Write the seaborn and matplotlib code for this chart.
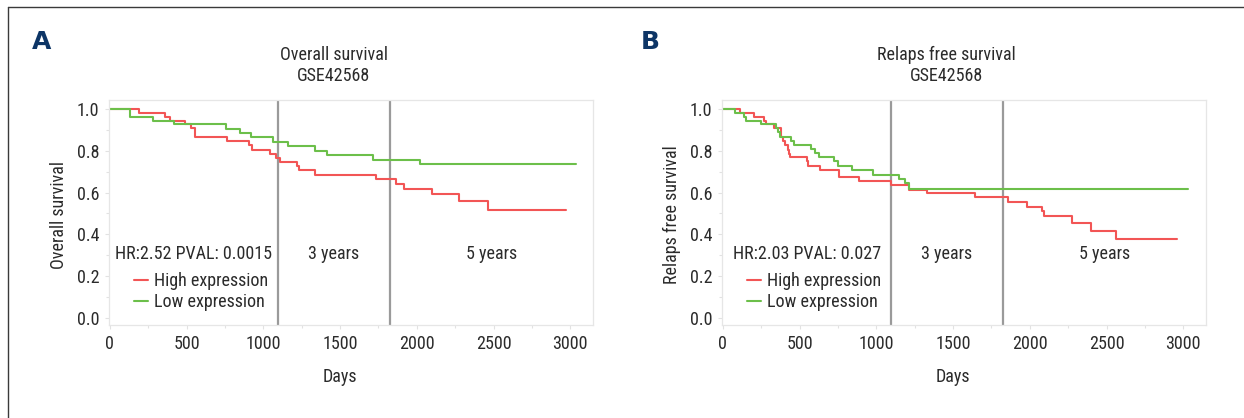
import matplotlib
matplotlib.use("Agg")
import matplotlib.pyplot as plt
from matplotlib import font_manager
from matplotlib.lines import Line2D
from matplotlib.ticker import MultipleLocator
import numpy as np
import pandas as pd
import seaborn as sns

# ---------------- data ----------------
groups = ["High expression", "Low expression"]

# Panel A: Overall survival (GSE42568)
os_high_days = [0, 189, 363, 395, 493, 526, 554, 765, 906, 928, 1047, 1080, 1112, 1221, 1236, 1336,
                1735, 1863, 1917, 2096, 2278, 2463, 2971]
os_high_surv = [1.0, 0.982, 0.963, 0.944, 0.926, 0.907, 0.865, 0.846, 0.827, 0.806, 0.786, 0.765, 0.746,
                0.725, 0.706, 0.685, 0.666, 0.642, 0.619, 0.592, 0.558, 0.518, 0.518]
os_low_days = [0, 135, 283, 419, 754, 849, 917, 1064, 1162, 1340, 1416, 1716, 2024, 3038]
os_low_surv = [1.0, 0.963, 0.942, 0.926, 0.905, 0.886, 0.865, 0.842, 0.822, 0.801, 0.780, 0.756, 0.735, 0.735]

# Panel B: Relapse free survival (GSE42568)
rfs_high_days = [0, 114, 205, 270, 281, 335, 379, 390, 405, 422, 433, 437, 547, 556, 634, 757, 887, 1093,
                 1216, 1331, 1645, 1861, 1980, 2079, 2090, 2272, 2402, 2560, 2961]
rfs_high_surv = [1.0, 0.982, 0.963, 0.944, 0.926, 0.907, 0.867, 0.847, 0.827, 0.806, 0.786, 0.769, 0.749,
                 0.729, 0.706, 0.674, 0.654, 0.637, 0.614, 0.597, 0.577, 0.557, 0.533, 0.510, 0.488,
                 0.452, 0.417, 0.377, 0.377]
rfs_low_days = [0, 80, 141, 152, 249, 346, 357, 372, 444, 461, 574, 600, 628, 725, 753, 844, 978, 1151,
                1184, 1212, 3028]
rfs_low_surv = [1.0, 0.982, 0.963, 0.942, 0.926, 0.910, 0.888, 0.867, 0.846, 0.828, 0.809, 0.788, 0.769,
                0.749, 0.729, 0.706, 0.685, 0.666, 0.645, 0.619, 0.619]

panel_letters = ["A", "B"]
titles = ["Overall survival\nGSE42568", "Relaps free survival\nGSE42568"]
ylabels = ["Overall survival", "Relaps free survival"]
stats_text = ["HR:2.52 PVAL: 0.0015", "HR:2.03 PVAL: 0.027"]
year_marks = [1095, 1825]
year_labels = ["3 years", "5 years"]
x_ticks = [0, 500, 1000, 1500, 2000, 2500, 3000]
y_ticks = [0.0, 0.2, 0.4, 0.6, 0.8, 1.0]

# ---------------- style ----------------
sns.set_theme(style="white")
avail = {f.name for f in font_manager.fontManager.ttflist}
fam = [f for f in ["Liberation Sans Narrow", "DejaVu Sans Condensed", "Roboto Condensed",
                   "Liberation Sans", "DejaVu Sans"] if f in avail]
plt.rcParams["font.family"] = fam + ["DejaVu Sans"]

RED = "#f25555"
GREEN = "#6cbf4a"
palette = {"High expression": RED, "Low expression": GREEN}
TXT = "#2b2b2b"
FS = 13

fig = plt.figure(figsize=(12.44, 4.18), dpi=100)
W, H = 1244, 418

def make_df(hd, hs, ld, ls):
    return pd.concat([
        pd.DataFrame({"days": hd, "surv": hs, "group": groups[0]}),
        pd.DataFrame({"days": ld, "surv": ls, "group": groups[1]}),
    ], ignore_index=True)

dfs = [make_df(os_high_days, os_high_surv, os_low_days, os_low_surv),
       make_df(rfs_high_days, rfs_high_surv, rfs_low_days, rfs_low_surv)]

ax_lefts = [109, 722]
ax_w, ax_top, ax_bot = 484, 100, 325
letter_x = [42, 650]

for i in range(2):
    ax = fig.add_axes([ax_lefts[i] / W, (H - ax_bot) / H, ax_w / W, (ax_bot - ax_top) / H])
    sns.lineplot(data=dfs[i], x="days", y="surv", hue="group", palette=palette,
                 drawstyle="steps-post", estimator=None, linewidth=1.5, ax=ax, legend=False)
    for xm in year_marks:
        ax.axvline(xm, color="#9a9a9a", linewidth=1.6, zorder=0)
    ax.set_xlim(-5, 3148)
    ax.set_ylim(-0.034, 1.043)
    ax.set_xticks(x_ticks)
    ax.set_yticks(y_ticks)
    ax.set_xticklabels([str(t) for t in x_ticks])
    ax.set_yticklabels([f"{t:.1f}" for t in y_ticks])
    ax.xaxis.set_minor_locator(MultipleLocator(250))
    ax.yaxis.set_minor_locator(MultipleLocator(0.1))
    ax.tick_params(axis="both", which="both", length=3, width=0.8, color="#e2e2e2",
                   labelsize=FS, labelcolor=TXT, direction="out", pad=4,
                   bottom=True, left=True)
    ax.tick_params(which="minor", length=2)
    for s in ax.spines.values():
        s.set_color("#e6e6e6")
        s.set_linewidth(0.9)
    ax.set_xlabel("Days", fontsize=FS, color=TXT)
    ax.xaxis.set_label_coords(0.477, -0.19)
    ax.set_ylabel(ylabels[i], fontsize=FS, color=TXT)
    ax.yaxis.set_label_coords(-0.085, 0.49)
    ax.set_title(titles[i], fontsize=FS, color=TXT, x=0.464, pad=14, linespacing=1.2)

    # annotations centred in each time segment
    bounds = [0] + year_marks + [3150]
    texts = [stats_text[i]] + year_labels
    for k in range(3):
        ax.text((bounds[k] + bounds[k + 1]) / 2, 0.306, texts[k], ha="center", va="center",
                fontsize=FS, color=TXT)

    handles = [Line2D([0], [0], color=palette[g], linewidth=1.5) for g in groups]
    ax.legend(handles, groups, loc="upper left", bbox_to_anchor=(0.052, 0.235), frameon=False,
              fontsize=FS, handlelength=0.75, handletextpad=0.35, labelspacing=0.15,
              borderpad=0, borderaxespad=0, labelcolor=TXT)

    fig.text(letter_x[i] / W, 1 - 42 / H, panel_letters[i], ha="center", va="center",
             fontsize=18, fontweight="bold", color="#0d3566", family=["DejaVu Sans"])

# outer frame lines (top and left)
fig.add_artist(Line2D([8 / W, 1.0], [1 - 7 / H, 1 - 7 / H], transform=fig.transFigure,
                      color="#3a3a3a", linewidth=1.0))
fig.add_artist(Line2D([8 / W, 8 / W], [0.0, 1 - 7 / H], transform=fig.transFigure,
                      color="#3a3a3a", linewidth=1.0))

fig.savefig("out.png", dpi=100)
